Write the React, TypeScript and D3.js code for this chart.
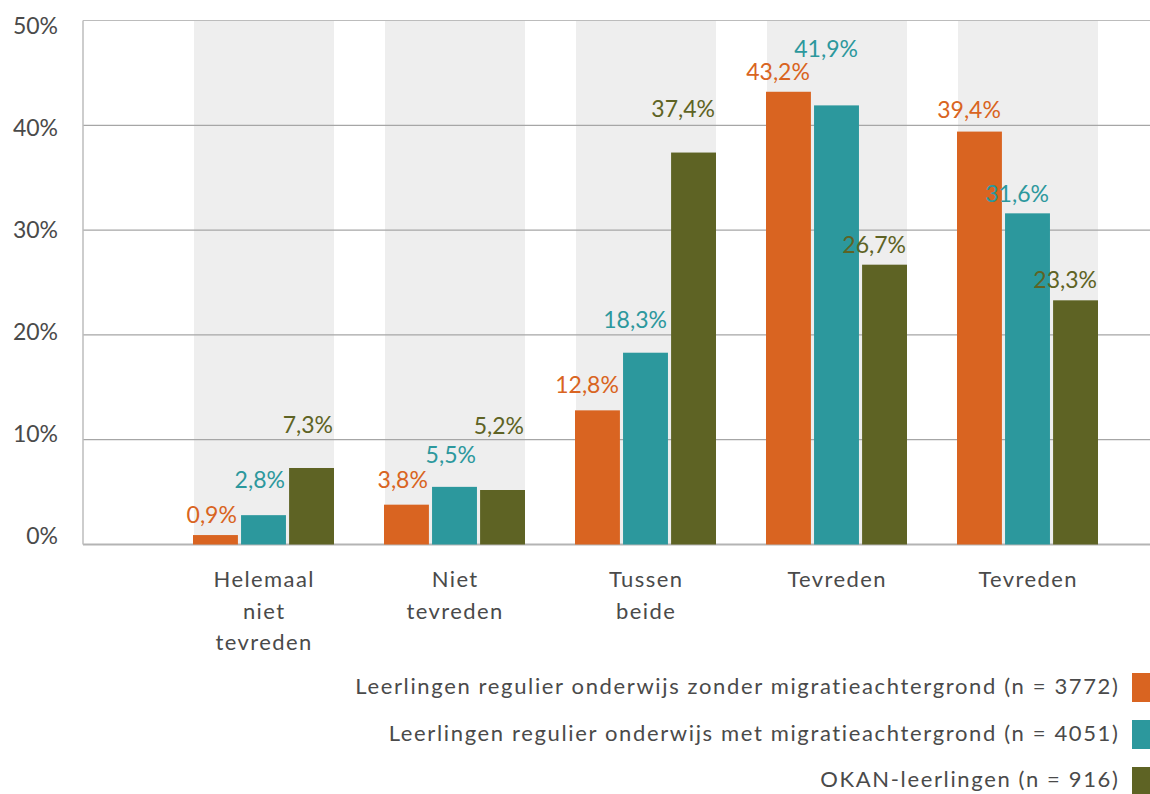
import React from "react";
import * as d3 from "d3";

const categories = ["Helemaal niet tevreden", "Niet tevreden", "Tussen beide", "Tevreden", "Tevreden (2)"];
const categoryLines = [["Helemaal", "niet", "tevreden"], ["Niet", "tevreden"], ["Tussen", "beide"], ["Tevreden"], ["Tevreden"]];
const seriesNames = [
  "Leerlingen regulier onderwijs zonder migratieachtergrond (n = 3772)",
  "Leerlingen regulier onderwijs met migratieachtergrond (n = 4051)",
  "OKAN-leerlingen (n = 916)",
];
const zonder = [0.9, 3.8, 12.8, 43.2, 39.4];
const met = [2.8, 5.5, 18.3, 41.9, 31.6];
const okan = [7.3, 5.2, 37.4, 26.7, 23.3];
const seriesValues = [zonder, met, okan];
const colors = ["#D96421", "#2C989D", "#5E6324"];
const yTicks = [0, 10, 20, 30, 40, 50];
// label lift above bar top (px), per series per category
const labelGap = [
  [12, 17, 17, 12, 14],
  [27, 24, 25, 48, 11],
  [35, 56, 36, 12, 12],
];

const W = 1150;
const H = 794;
const FONT = "Lato, 'Open Sans', sans-serif";
const TEXT = "#4a4a4a";

export default function App() {
  const y = d3.scaleLinear().domain([0, 50]).range([544.5, 20.5]);
  const yLab = d3.scaleLinear().domain([0, 50]).range([536, 25.5]);
  const x = d3.scaleBand<string>().domain(categories).range([168, 1123]).paddingInner(50 / 191).paddingOuter(25 / 191);
  const inner = d3.scaleBand<number>().domain([0, 1, 2]).range([0, x.bandwidth()]).paddingInner(0.065).paddingOuter(0);
  const fmt = (v: number) => v.toFixed(1).replace(".", ",") + "%";

  return (
    <svg width={W} height={H} style={{ position: "absolute", left: 0, top: 0, background: "#fff" }} fontFamily={FONT}>
      {categories.map((c) => (
        <rect key={c} x={x(c)! + 1} y={y(50)} width={x.bandwidth() - 1} height={y(0) - y(50)} fill="#EEEEEE" />
      ))}
      {yTicks.map((t) => (
        <line key={t} x1={83} x2={W} y1={y(t)} y2={y(t)} stroke={t === 0 ? "#b4b4b4" : t === 50 ? "#bcbcbc" : "#a6a6a6"} strokeWidth={t === 0 ? 2 : 1.2} />
      ))}
      <line x1={83} x2={83} y1={y(50)} y2={y(0)} stroke="#bcbcbc" strokeWidth={1.5} />
      {yTicks.map((t) => (
        <text key={t} x={58} y={yLab(t)} dy="0.35em" textAnchor="end" fontSize={23} fill={TEXT}>
          {t}%
        </text>
      ))}
      {seriesValues.map((vals, si) =>
        vals.map((v, ci) => {
          const bx = x(categories[ci])! + inner(si)!;
          return (
            <g key={si + "-" + ci}>
              <rect x={bx} y={y(v)} width={inner.bandwidth()} height={y(0) - y(v)} fill={colors[si]} />
              <text x={bx + inner.bandwidth() - 1} y={y(v) - labelGap[si][ci]} textAnchor="end" fontSize={23} fill={colors[si]}>
                {fmt(v)}
              </text>
            </g>
          );
        })
      )}
      {categories.map((c, ci) => (
        <text key={c} textAnchor="middle" fontSize={22} fill={TEXT} letterSpacing={1.4}>
          {categoryLines[ci].map((l, li) => (
            <tspan key={li} x={x(c)! + x.bandwidth() / 2 + 0.7} y={587 + li * 31.5}>
              {l}
            </tspan>
          ))}
        </text>
      ))}
      {seriesNames.map((n, si) => (
        <g key={n}>
          <text x={1119.5} y={694 + si * 46.5} textAnchor="end" fontSize={22} fill={TEXT} letterSpacing={1.64}>
            {n}
          </text>
          <rect x={1132} y={673 + si * 47} width={29} height={29} fill={colors[si]} />
        </g>
      ))}
    </svg>
  );
}
